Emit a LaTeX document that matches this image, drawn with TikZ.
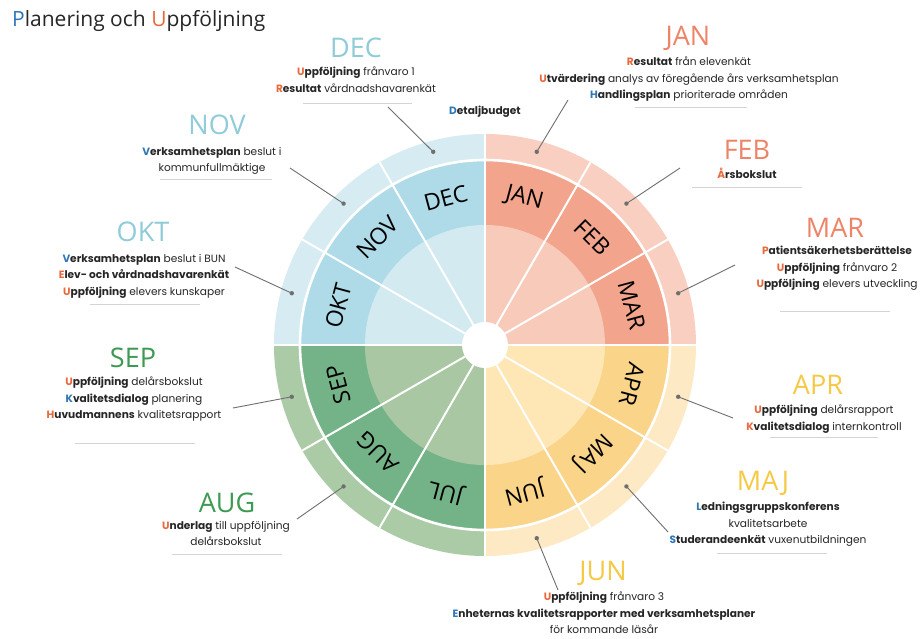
\documentclass[tikz,border=0pt]{standalone}
\usepackage{fontspec}
\setmainfont{Poppins}
\newfontfamily\headfont{Open Sans}
\usetikzlibrary{positioning}

\definecolor{txt}{HTML}{262626}
\definecolor{iniOrange}{HTML}{E8693C}
\definecolor{iniBlue}{HTML}{2F76B8}
\definecolor{bluHead}{HTML}{8FCBD9}
\definecolor{salHead}{HTML}{EE8467}
\definecolor{yelHead}{HTML}{F5C944}
\definecolor{grnHead}{HTML}{3D9A52}
\definecolor{salOut}{HTML}{F8CFC0}
\definecolor{salMid}{HTML}{F2A48D}
\definecolor{salIn}{HTML}{F8CAB9}
\definecolor{yelOut}{HTML}{FDE9C3}
\definecolor{yelMid}{HTML}{FAD488}
\definecolor{yelIn}{HTML}{FEE6B5}
\definecolor{grnOut}{HTML}{ABCBA6}
\definecolor{grnMid}{HTML}{74B387}
\definecolor{grnIn}{HTML}{A8C7A2}
\definecolor{bluOut}{HTML}{D6EBF2}
\definecolor{bluMid}{HTML}{AEDBE7}
\definecolor{bluIn}{HTML}{D3EAF1}
\definecolor{leadGray}{HTML}{6F6F6F}
\definecolor{sepGray}{HTML}{D4D4D4}

\newcommand\io[1]{\textcolor{iniOrange}{#1}}
\newcommand\ib[1]{\textcolor{iniBlue}{#1}}

\begin{document}
\begin{tikzpicture}[x=1pt,y=1pt,
  head/.style={font=\headfont\fontsize{27}{27}\selectfont, inner sep=0pt},
  info/.style={anchor=north, align=center, inner sep=0pt, text=txt, font=\fontsize{10.6}{16.5}\selectfont},
  mon/.style={font=\headfont\fontsize{23}{23}\selectfont, inner sep=0pt, text=black},
  sep/.style={sepGray, line width=0.8pt},
  lead/.style={leadGray, line width=0.9pt},
  dotmark/.style={fill=leadGray}]
\fill[white] (-485,-293) rectangle (435,345);
\useasboundingbox (-485,-293) rectangle (435,345);

\node[font=\headfont\fontsize{21}{21}\selectfont, anchor=west, inner sep=0pt, text=txt] (title) at (-473,324)
  {\textcolor{iniBlue}{P}lanering och \textcolor{iniOrange}{U}ppföljning};

\foreach \a/\col in {0/sal,90/blu,180/grn,270/yel}{
  \fill[fill=\col Out] (0,0) -- (\a:211) arc[start angle=\a, end angle=\a+90, radius=211] -- cycle;
  \fill[fill=\col Mid] (0,0) -- (\a:185) arc[start angle=\a, end angle=\a+90, radius=185] -- cycle;
  \fill[fill=\col In] (0,0) -- (\a:120) arc[start angle=\a, end angle=\a+90, radius=120] -- cycle;
}
\foreach \a in {0,30,...,330}
  \draw[white, line width=2pt] (0,0) -- (\a:211);
\foreach \a in {0,90,180,270}
  \draw[white, line width=2.6pt] (0,0) -- (\a:211);
\draw[white, line width=2.6pt] (0,0) circle[radius=185];
\fill[white] (0,0) circle[radius=23];

\foreach \m [count=\i] in {JAN,FEB,MAR,APR,MAJ,JUN,JUL,AUG,SEP,OKT,NOV,DEC}{
  \pgfmathsetmacro\ang{105-30*\i}
  \node[mon, rotate=\ang-90] (ring\m) at (\ang:152) {\m};
  \coordinate (dot\m) at (\ang:200);
}
\foreach \m in {JAN,FEB,MAR,APR,MAJ,JUN,AUG,SEP,OKT,NOV,DEC}
  \fill[dotmark] (dot\m) circle[radius=2.2];

\node[info, anchor=center, text=txt] (budget) at (0,233) {\textbf{\ib{D}etaljbudget}};

\node[head, text=bluHead] (decHead) at (-129,297) {DEC};
\node[info] (decText) at (-129,278)
  {\textbf{\io{U}ppföljning} frånvaro 1\\ \textbf{\io{R}esultat} vårdnadshavarenkät};
\draw[sep] (-182,242) -- (-73,242);
\coordinate (decLead) at (-97,238);

\node[head, text=bluHead] (novHead) at (-268,220) {NOV};
\node[info] (novText) at (-273,198)
  {\textbf{\ib{V}erksamhetsplan} beslut i\\ kommunfullmäktige};
\draw[sep] (-325,166) -- (-213,166);
\coordinate (novLead) at (-195,177);

\node[head, text=bluHead] (oktHead) at (-342,113) {OKT};
\node[info] (oktText) at (-341,91)
  {\textbf{\ib{V}erksamhetsplan} beslut i BUN\\ \textbf{\io{E}lev- och vårdnadshavarenkät}\\ \textbf{\io{U}ppföljning} elevers kunskaper};
\draw[sep] (-395,41) -- (-285,41);
\coordinate (oktLead) at (-250,78);

\node[head, text=grnHead] (sepHead) at (-352,-13) {SEP};
\node[info] (sepText) at (-351,-32)
  {\textbf{\io{U}ppföljning} delårsbokslut\\ \textbf{\ib{K}valitetsdialog} planering\\ \textbf{\io{H}uvudmannens} kvalitetsrapport};
\draw[sep] (-410,-98) -- (-290,-98);
\coordinate (sepLead) at (-252,-63);

\node[head, text=grnHead] (augHead) at (-258,-158) {AUG};
\node[info] (augText) at (-259,-176)
  {\textbf{\io{U}nderlag} till uppföljning\\ delårsbokslut};
\draw[sep] (-313,-209) -- (-203,-209);
\coordinate (augLead) at (-188,-174);

\node[head, text=yelHead] (junHead) at (118,-228) {JUN};
\node[info] (junText) at (119,-247)
  {\textbf{\io{U}ppföljning} frånvaro 3\\ \textbf{\ib{E}nheternas kvalitetsrapporter med verksamhetsplaner}\\ för kommande läsår};
\coordinate (junLead) at (73,-245);

\node[head, text=yelHead] (majHead) at (278,-138) {MAJ};
\node[info] (majText) at (283,-157)
  {\textbf{\ib{L}edningsgruppskonferens}\\ kvalitetsarbete\\ \textbf{\ib{S}tuderandeenkät} vuxenutbildningen};
\draw[sep] (232,-208) -- (342,-208);
\coordinate (majLead) at (183,-187);

\node[head, text=yelHead] (aprHead) at (333,-40) {APR};
\node[info] (aprText) at (339,-60)
  {\textbf{\io{U}ppföljning} delårsrapport\\ \textbf{\io{K}valitetsdialog} internkontroll};
\draw[sep] (285,-92) -- (393,-92);
\coordinate (aprLead) at (248,-73);

\node[head, text=salHead] (marHead) at (350,117) {MAR};
\node[info] (marText) at (352,99)
  {\textbf{\io{P}atientsäkerhetsberättelse}\\ \textbf{\io{U}ppföljning} frånvaro 2\\ \textbf{\io{U}ppföljning} elevers utveckling};
\draw[sep] (295,34) -- (405,34);
\coordinate (marLead) at (250,80);

\node[head, text=salHead] (febHead) at (262,195) {FEB};
\node[info] (febText) at (262,177) {\textbf{\io{Å}rsbokslut}};
\draw[sep] (207,158) -- (317,158);
\coordinate (febLead) at (195,177);

\node[head, text=salHead] (janHead) at (203,307) {JAN};
\node[info] (janText) at (204,288)
  {\textbf{\io{R}esultat} från elevenkät\\ \textbf{\io{U}tvärdering} analys av föregående års verksamhetsplan\\ \textbf{\ib{H}andlingsplan} prioriterade områden};
\draw[sep] (150,238) -- (262,238);
\coordinate (janLead) at (83,245);

\foreach \m/\n in {dec/DEC,nov/NOV,okt/OKT,sep/SEP,aug/AUG,jun/JUN,maj/MAJ,apr/APR,mar/MAR,feb/FEB,jan/JAN}
  \draw[lead] (\m Lead) -- (dot\n);
\end{tikzpicture}
\end{document}
